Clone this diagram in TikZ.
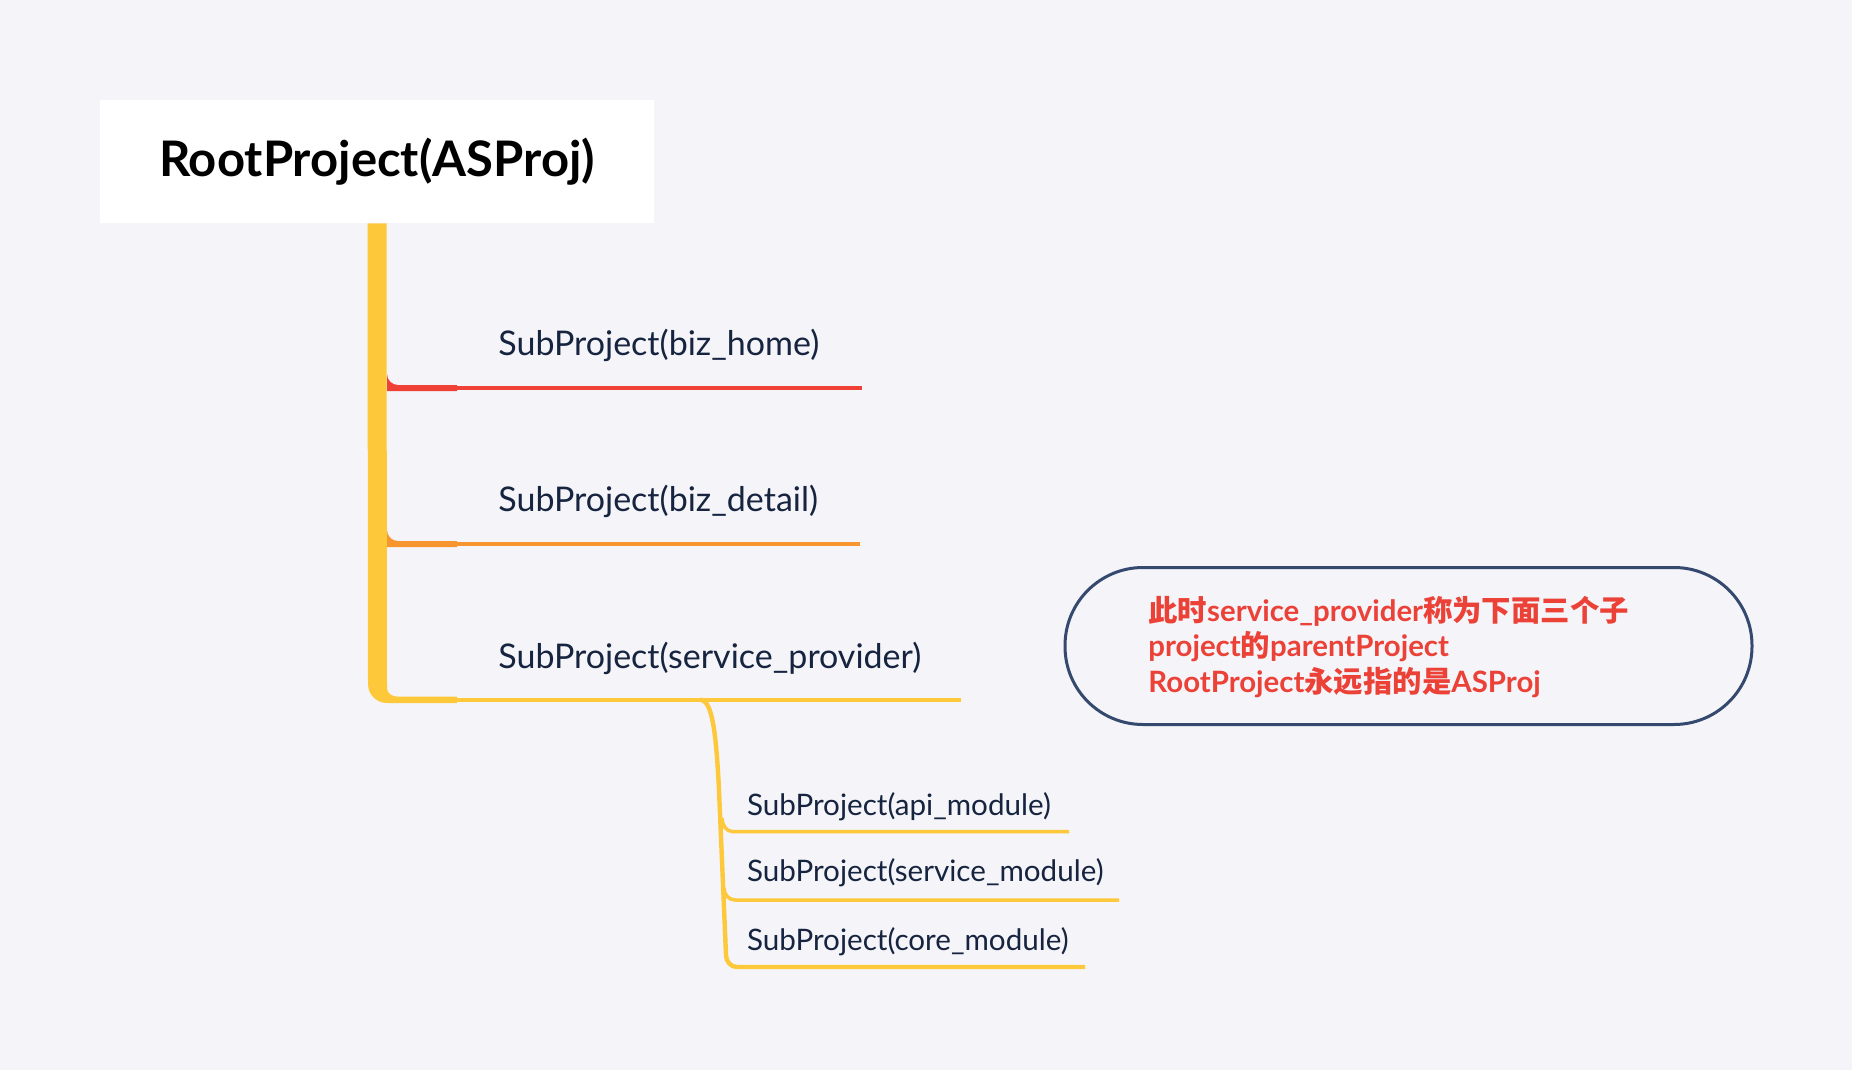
\documentclass[tikz,border=0pt]{standalone}
\usepackage{fontspec}
\setmainfont{Lato}
\newfontfamily\cjk{Noto Sans CJK SC}
\usepackage{xcolor}
\usetikzlibrary{positioning}

\definecolor{bgcol}{HTML}{F4F4F9}
\definecolor{mapyellow}{HTML}{FDC83A}
\definecolor{mapred}{HTML}{EF4136}
\definecolor{maporange}{HTML}{F7962F}
\definecolor{labelcol}{HTML}{16243F}
\definecolor{notecol}{HTML}{35496F}
\definecolor{notered}{HTML}{EB4137}

\tikzset{
  rootbox/.style={fill=white, minimum width=277pt, minimum height=61.5pt, inner sep=0,
    font=\fontsize{24.5}{28}\selectfont\bfseries},
  sublabel/.style={anchor=base west, inner sep=0, text=labelcol, font=\fontsize{17}{20}\selectfont},
  leaflabel/.style={anchor=base west, inner sep=0, text=labelcol, font=\fontsize{14.8}{18}\selectfont},
  branch/.style={line width=2pt},
  leafline/.style={mapyellow, line width=1.75pt},
  notebox/.style={draw=notecol, fill=bgcol, line width=1.5pt, rounded corners=39pt,
    minimum width=343.5pt, minimum height=78.5pt},
  notetext/.style={anchor=west, inner sep=0, align=left, text=notered,
    font=\fontsize{14.7}{17.75}\selectfont\bfseries}
}

\begin{document}
\begin{tikzpicture}[x=0.5pt, y=-0.5pt]
\fill[bgcol] (0,0) rectangle (1852,1070);
\useasboundingbox (0,0) rectangle (1852,1070);

\node[rootbox] (root) at (377,161.5) {RootProject(ASProj)};

\node[sublabel] (home) at (498,355) {SubProject(biz\_home)};
\node[sublabel] (detail) at (498,511.7) {SubProject(biz\_detail)};
\node[sublabel] (provider) at (498,668) {SubProject(service\_provider)};

\node[leaflabel] (api) at (746.7,815) {SubProject(api\_module)};
\node[leaflabel] (svcmod) at (746.7,881.7) {SubProject(service\_module)};
\node[leaflabel] (core) at (746.7,950) {SubProject(core\_module)};

\coordinate (homeend) at (862,388);
\coordinate (detailend) at (860,544);
\coordinate (providerend) at (961,699.5);
\coordinate (apiend) at (1069,831.7);
\coordinate (svcmodend) at (1119,900);
\coordinate (coreend) at (1085,967);

% first level
\fill[mapred] (387,374) to[out=-90,in=180] (398,385) -- (457,385) -- (457,391) -- (387,391) -- cycle;
\draw[branch, mapred] (457,388) -- (homeend);
\fill[maporange] (387,530) to[out=-90,in=180] (398,541) -- (457,541) -- (457,547) -- (387,547) -- cycle;
\draw[branch, maporange] (457,544) -- (detailend);
\fill[mapyellow] ([xshift=-4.75pt]root.south) -- ([xshift=4.75pt]root.south)
  -- (387,688) to[out=-90,in=180] (397,696.5) -- (457,696.5) -- (457,703)
  -- (387,703) to[out=180,in=-90] (368,684) -- cycle;
\draw[branch, mapyellow] (457,699.5) -- (providerend);

% second level
\draw[leafline, line width=2.2pt] (700,699.5) .. controls (712,700) and (716,730) .. (719,790) -- (726,955)
  to[out=-90,in=180] (737,967) -- (coreend);
\draw[leafline] (722,818) to[out=-90,in=180] (733,831.7) -- (apiend);
\draw[leafline] (724,888) to[out=-90,in=180] (735,900) -- (svcmodend);

\node[notebox] (note) at (1408.5,646) {};
\node[notetext] (notetxt) at (1148,647) {{\cjk 此时}service\_provider{\cjk 称为下面三个子}\\
  project{\cjk 的}parentProject\\
  RootProject{\cjk 永远指的是}ASProj};
\end{tikzpicture}
\end{document}
